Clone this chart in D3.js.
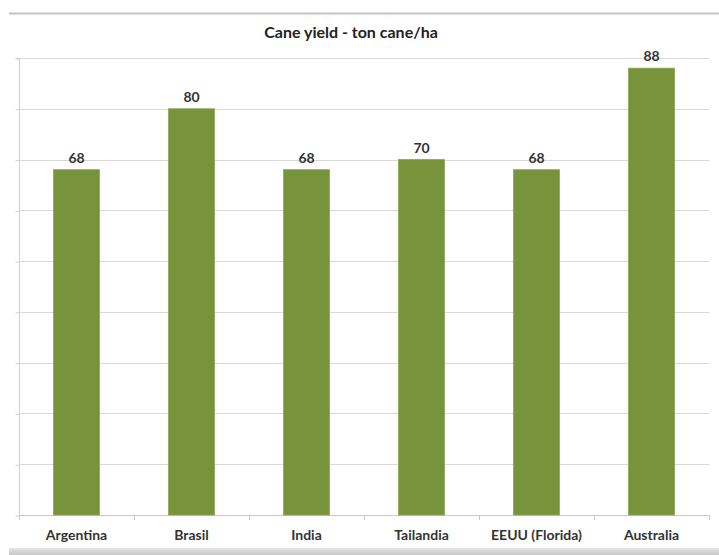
<!DOCTYPE html>
<html>
<head>
<meta charset="utf-8">
<script src="https://cdn.jsdelivr.net/npm/d3@7/dist/d3.min.js"></script>
<style>
  html, body { margin: 0; padding: 0; background: #fff; }
  svg { display: block; }
  text { font-family: Lato, "Open Sans", sans-serif; }
</style>
</head>
<body>
<div id="chart"></div>
<script>
const categories = ["Argentina", "Brasil", "India", "Tailandia", "EEUU (Florida)", "Australia"];
const values = [68, 80, 68, 70, 68, 88];
const yTicks = [0, 10, 20, 30, 40, 50, 60, 70, 80, 90];
const title = "Cane yield - ton cane/ha";

const W = 719, H = 555;
const plot = { left: 19, right: 709, top: 58, bottom: 515 };

const svg = d3.select("#chart").append("svg").attr("width", W).attr("height", H);

// frame: top line and bottom gray band
svg.append("rect").attr("x", 9).attr("y", 12.5).attr("width", W - 9).attr("height", 2).attr("fill", "#c4c4c4");
const grad = svg.append("defs").append("linearGradient").attr("id", "band").attr("x1", 0).attr("x2", 0).attr("y1", 0).attr("y2", 1);
grad.append("stop").attr("offset", "0%").attr("stop-color", "#e4e4e4");
grad.append("stop").attr("offset", "100%").attr("stop-color", "#c8c8c8");
svg.append("rect").attr("x", 9).attr("y", 548).attr("width", W - 9).attr("height", 7).attr("fill", "url(#band)");

const x = d3.scaleBand().domain(categories).range([plot.left, plot.right]).paddingInner(0.6).paddingOuter(0.3);
const y = d3.scaleLinear().domain([0, 90]).range([plot.bottom, plot.top]);

// gridlines
svg.append("g").selectAll("line").data(yTicks.slice(1)).join("line")
  .attr("x1", plot.left).attr("x2", plot.right)
  .attr("y1", d => Math.round(y(d)) + 0.5).attr("y2", d => Math.round(y(d)) + 0.5)
  .attr("stroke", "#d9d9d9").attr("stroke-width", 1);

// y axis (line + ticks, no labels)
const yAxis = d3.axisLeft(y).tickValues(yTicks).tickSize(4).tickFormat("");
const gy = svg.append("g").attr("transform", `translate(${plot.left + 0.5},0.5)`).call(yAxis);
gy.select(".domain").attr("stroke", "#d0d0d0").attr("d", `M-4,${y(90)}H0V${y(0)}`);
gy.selectAll(".tick line").attr("stroke", "#d0d0d0");

// x axis baseline with ticks at band boundaries
const bounds = categories.map(c => x(c) - x.step() * 0.3).concat([plot.right]);
svg.append("line").attr("x1", plot.left).attr("x2", plot.right)
  .attr("y1", y(0) + 0.5).attr("y2", y(0) + 0.5).attr("stroke", "#c8c8c8");
svg.append("g").selectAll("line").data(bounds).join("line")
  .attr("x1", d => Math.round(d) + 0.5).attr("x2", d => Math.round(d) + 0.5)
  .attr("y1", y(0)).attr("y2", y(0) + 5).attr("stroke", "#c8c8c8");

// bars
svg.append("g").selectAll("rect").data(values).join("rect")
  .attr("x", (d, i) => x(categories[i]))
  .attr("y", d => y(d))
  .attr("width", x.bandwidth())
  .attr("height", d => y(0) - y(d))
  .attr("fill", "#77933c")
  .attr("stroke", "#8aa653").attr("stroke-width", 0.8);

// value labels
svg.append("g").selectAll("text").data(values).join("text")
  .attr("x", (d, i) => x(categories[i]) + x.bandwidth() / 2)
  .attr("y", d => y(d) - 7)
  .attr("text-anchor", "middle")
  .attr("font-size", 14).attr("font-weight", "bold").attr("fill", "#333")
  .text(d => d);

// category labels
svg.append("g").selectAll("text").data(categories).join("text")
  .attr("x", c => x(c) + x.bandwidth() / 2)
  .attr("y", 540)
  .attr("text-anchor", "middle")
  .attr("font-size", 14).attr("font-weight", "bold").attr("fill", "#333")
  .text(c => c);

// title
svg.append("text").attr("x", 351).attr("y", 38).attr("text-anchor", "middle")
  .attr("font-size", 16).attr("font-weight", "bold").attr("fill", "#222")
  .text(title);
</script>
</body>
</html>
